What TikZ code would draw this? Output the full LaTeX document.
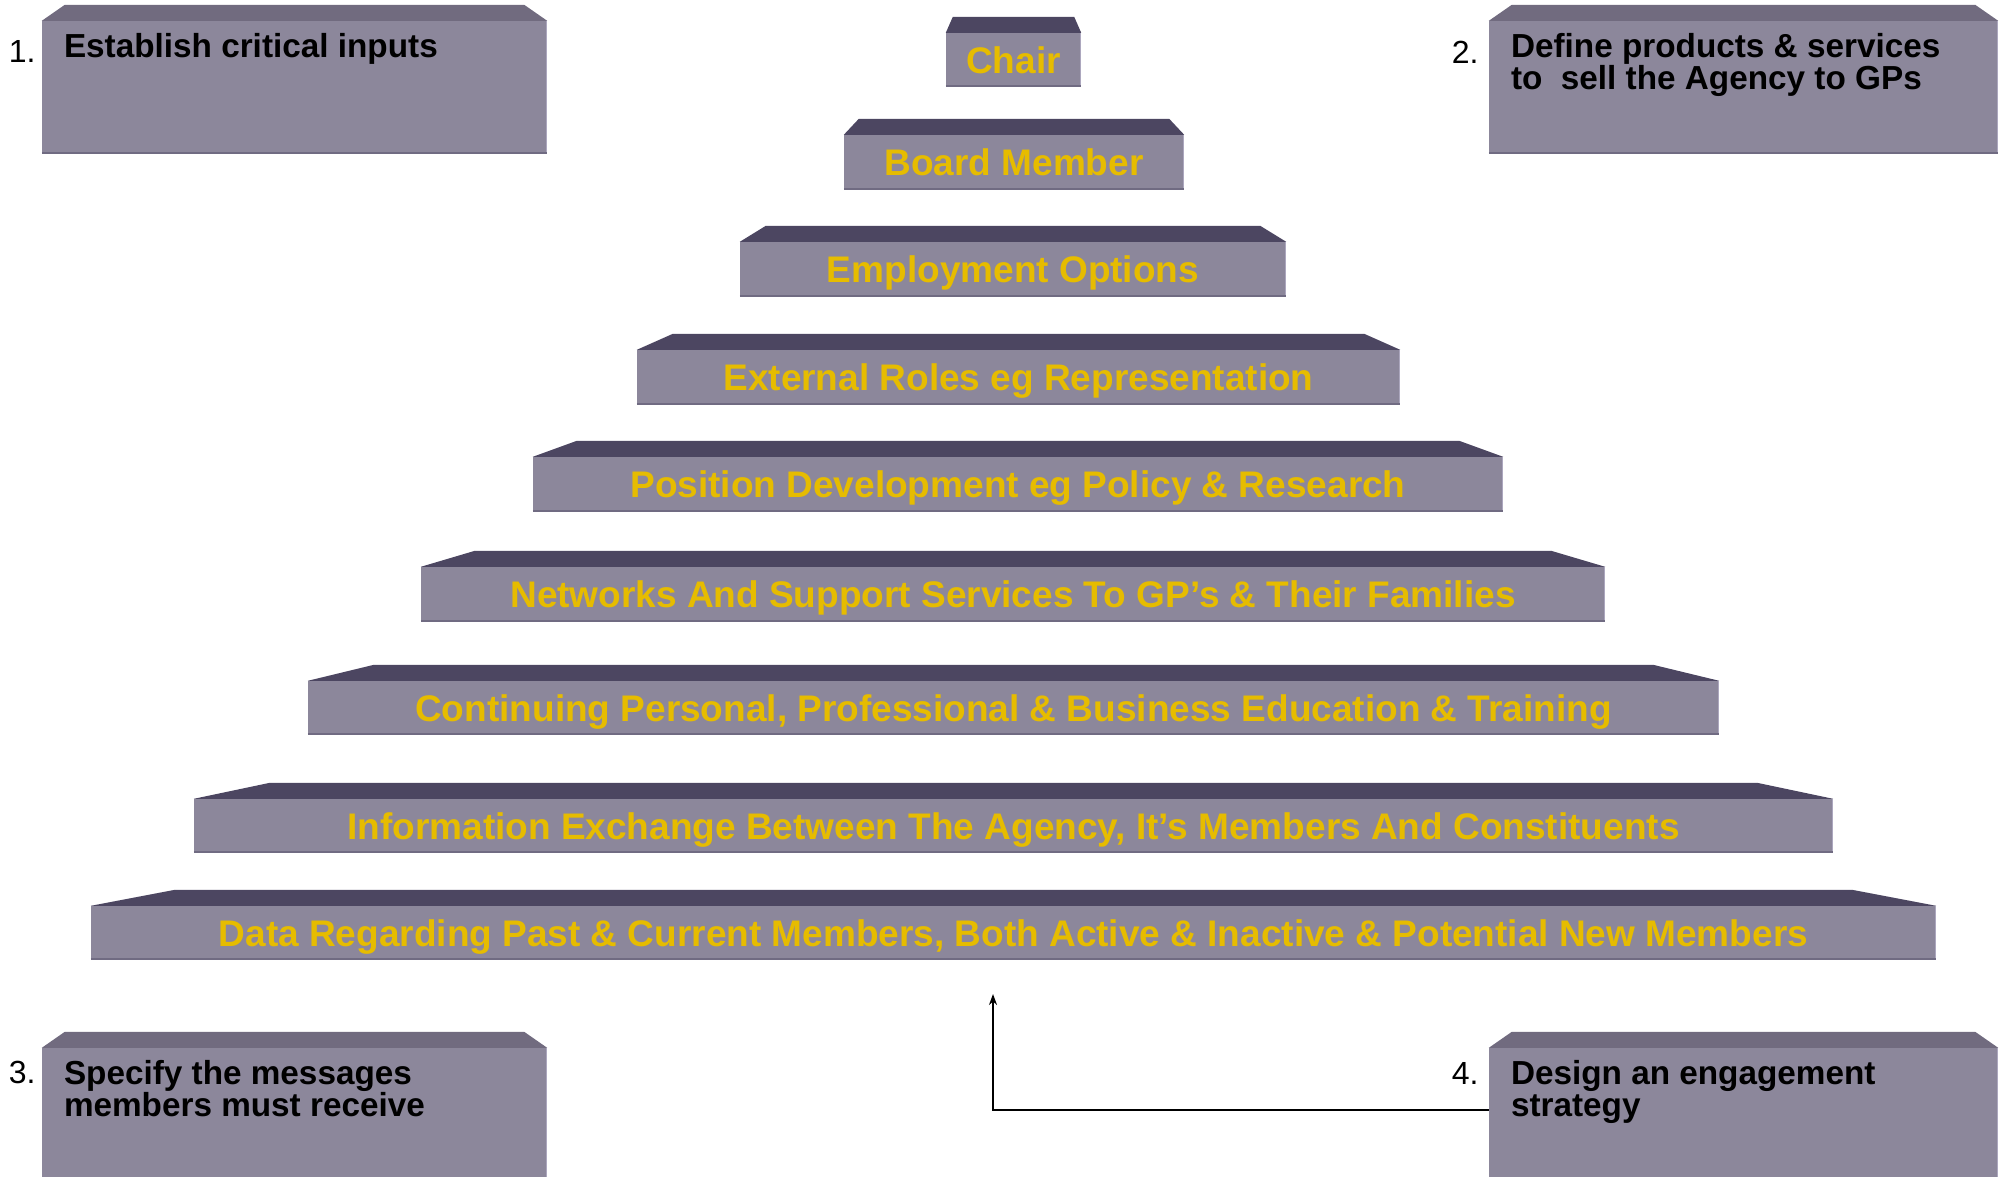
\documentclass[tikz,border=0pt]{standalone}
\usepackage{fontspec}
\setmainfont{Liberation Sans}
\usetikzlibrary{arrows.meta}
\definecolor{facefront}{RGB}{140,135,155}
\definecolor{facetop}{RGB}{76,70,97}
\definecolor{boxtop}{RGB}{113,107,127}
\definecolor{faceedge}{RGB}{112,107,130}
\definecolor{facelight}{RGB}{172,167,190}
\definecolor{labelgold}{RGB}{230,188,0}
\tikzset{
  stepfront/.style={rectangle, fill=facefront, inner sep=0pt, text=labelgold,
    text height=26.5pt, text depth=0pt,
    font=\fontsize{37}{40}\selectfont\bfseries},
  boxfront/.style={rectangle, fill=facefront, inner sep=0pt},
  boxtext/.style={inner sep=0pt, align=left, text=black,
    font=\fontsize{33.3}{32}\selectfont\bfseries},
  boxnum/.style={inner sep=0pt, text=black, font=\fontsize{32}{32}\selectfont},
  bottomedge/.style={draw=faceedge, line width=2.5pt},
  sideedge/.style={draw=facelight, line width=1.5pt},
  connector/.style={draw=black, line width=2pt, -{Stealth[length=11pt,width=8pt]}}
}
\begin{document}
\begin{tikzpicture}[x=1pt,y=-1pt]
\useasboundingbox (0,0) rectangle (2001,1176);
\fill[white] (0,0) rectangle (2001,1176);

% pyramid steps: name / left / right / front top / front bottom / top inset / label
\foreach \n/\l/\r/\t/\b/\i/\txt in {
  s1/946/1081/33/87/7/{Chair},
  s2/844/1184/135/190/15/{Board Member},
  s3/740/1286/242/297/26/{Employment Options},
  s4/637/1400/350/405/36/{External Roles eg Representation},
  s5/533/1503/457/512/44/{Position Development eg Policy \& Research},
  s6/421/1605/567/622/54/{Networks And Support Services To GP’s \& Their Families},
  s7/308/1719/681/735/66/{Continuing Personal, Professional \& Business Education \& Training},
  s8/194/1833/799/853/76/{Information Exchange Between The Agency, It’s Members And Constituents},
  s9/91/1936/906/960/84/{Data Regarding Past \& Current Members, Both Active \& Inactive \& Potential New Members}}{
  \pgfmathsetmacro\cx{(\l+\r)/2}
  \pgfmathsetmacro\cy{(\t+\b)/2}
  \pgfmathsetmacro\w{\r-\l}
  \pgfmathsetmacro\h{\b-\t}
  \node[stepfront, minimum width=\w pt, minimum height=\h pt] (\n) at (\cx,\cy) {\txt};
  \fill[facetop] (\n.north west) -- ++(\i,-16) -- ([shift={(-\i,-16)}]\n.north east)
    -- (\n.north east) -- cycle;
  \path[bottomedge] ([shift={(0,-1)}]\n.south west) -- ([shift={(0,-1)}]\n.south east);
  \path[sideedge] ([shift={(-0.75,0)}]\n.north east) -- ([shift={(-0.75,-2)}]\n.south east);
}

% corner boxes
\node[boxfront, minimum width=505pt, minimum height=133pt] (b1) at (294.5,87.5) {};
\node[boxfront, minimum width=509pt, minimum height=133pt] (b2) at (1743.5,87.5) {};
\node[boxfront, minimum width=505pt, minimum height=140pt] (b3) at (294.5,1118) {};
\node[boxfront, minimum width=509pt, minimum height=140pt] (b4) at (1743.5,1118) {};
\foreach \n in {b1,b2,b3,b4}{
  \fill[boxtop] (\n.north west) -- ++(23,-16) -- ([shift={(-23,-16)}]\n.north east)
    -- (\n.north east) -- cycle;
  \path[sideedge] ([shift={(-0.75,0)}]\n.north east) -- ([shift={(-0.75,0)}]\n.south east);
}
\path[bottomedge] ([shift={(0,-1)}]b1.south west) -- ([shift={(0,-1)}]b1.south east);
\path[bottomedge] ([shift={(0,-1)}]b2.south west) -- ([shift={(0,-1)}]b2.south east);

\node[boxtext, anchor=north west] (t1) at ([shift={(22,12)}]b1.north west) {Establish critical inputs};
\node[boxtext, anchor=north west] (t2) at ([shift={(22,12)}]b2.north west) {Define products \& services\\to\ \ sell the Agency to GPs};
\node[boxtext, anchor=north west] (t3) at ([shift={(22,12)}]b3.north west) {Specify the messages\\members must receive};
\node[boxtext, anchor=north west] (t4) at ([shift={(22,12)}]b4.north west) {Design an engagement\\strategy};

\node[boxnum, anchor=base east] (n1) at ([shift={(-6,42)}]b1.north west) {1.};
\node[boxnum, anchor=base east] (n2) at ([shift={(-10,43)}]b2.north west) {2.};
\node[boxnum, anchor=base east] (n3) at ([shift={(-6,36)}]b3.north west) {3.};
\node[boxnum, anchor=base east] (n4) at ([shift={(-10,37)}]b4.north west) {4.};

% link from the engagement strategy up to the base of the pyramid
\coordinate (tail) at ([shift={(0,62)}]b4.north west);
\coordinate (tip) at (993,994);
\draw[connector] (tail) -| (tip);
\end{tikzpicture}
\end{document}
